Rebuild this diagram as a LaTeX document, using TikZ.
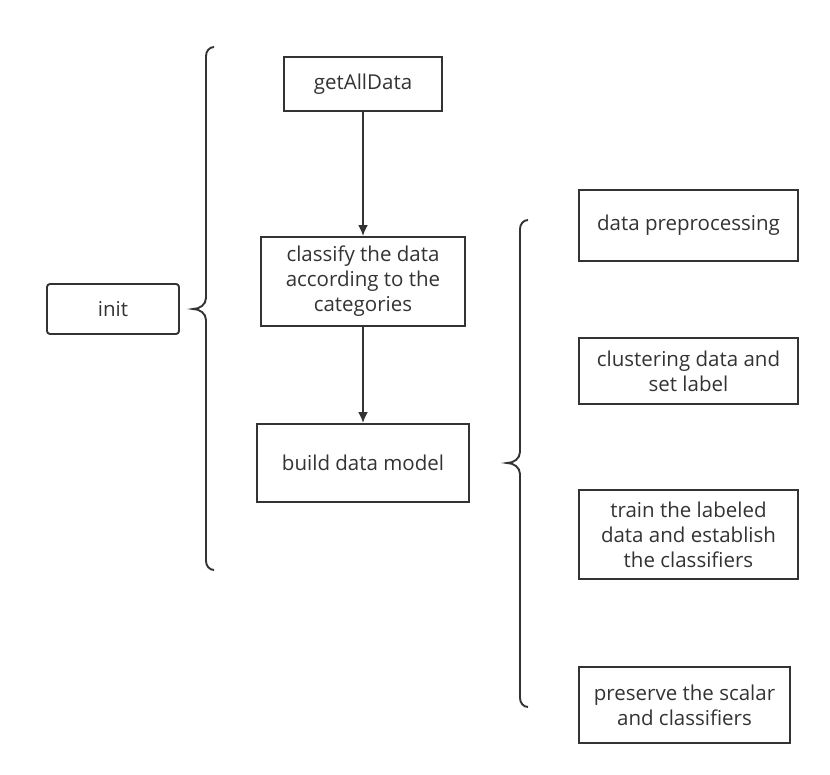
\documentclass[tikz,border=0pt]{standalone}
\usepackage{fontspec}
\setmainfont{Open Sans}
\usepackage{tikz}
\usetikzlibrary{arrows,arrows.meta,calc,positioning}
\definecolor{ink}{HTML}{333333}
\tikzset{
        block/.style = {draw=ink, text=ink, rectangle, line width=1.9pt,
            align=center, inner sep=0pt,
            font=\fontsize{20.5}{25}\selectfont},
        arrow/.style={draw=ink, line width=1.9pt, -{Latex[length=11pt,width=10pt]}},
        brace/.style={draw=ink, line width=1.9pt},
    }

\begin{document}
\begin{tikzpicture}[x=1pt,y=-1pt]
    \useasboundingbox (0,0) rectangle (830,775);

    \node[block, rounded corners=3pt, minimum width=132pt, minimum height=50pt] at (113,309) (init) {init};

    \node[block, minimum width=158pt, minimum height=54pt] at (363,84) (get) {getAllData};
    \node[block, minimum width=204pt, minimum height=89pt] at (363,281.5) (classify) {classify the data\\according to the\\categories};
    \node[block, minimum width=212pt, minimum height=78pt] at (363,463) (model) {build data model};

    \node[block, minimum width=219pt, minimum height=71pt] at (688.5,225.5) (prep) {data preprocessing};
    \node[block, minimum width=219pt, minimum height=66pt] at (688.5,371) (cluster) {clustering data and\\set label};
    \node[block, minimum width=219pt, minimum height=89pt] at (688.5,534.5) (train) {train the labeled\\data and establish\\the classifiers};
    \node[block, minimum width=211pt, minimum height=76pt] at (684.5,705) (save) {preserve the scalar\\and classifiers};

    \draw[arrow] (get) -- (classify);
    \draw[arrow] (classify) -- (model);

    % braces
    \coordinate (lb) at ($(init.east) + (13,0)$);
    \draw[brace] (214,47) to[out=180,in=90] (206,56) -- (206,298)
        to[out=-90,in=0] (lb) to[out=0,in=90] (206,320) -- (206,561)
        to[out=-90,in=180] (214,570);
    \coordinate (rb) at (507,463);
    \draw[brace] (528,220) to[out=180,in=90] (520,229) -- (520,452)
        to[out=-90,in=0] (rb) to[out=0,in=90] (520,474) -- (520,698)
        to[out=-90,in=180] (528,707);
\end{tikzpicture}
\end{document}
